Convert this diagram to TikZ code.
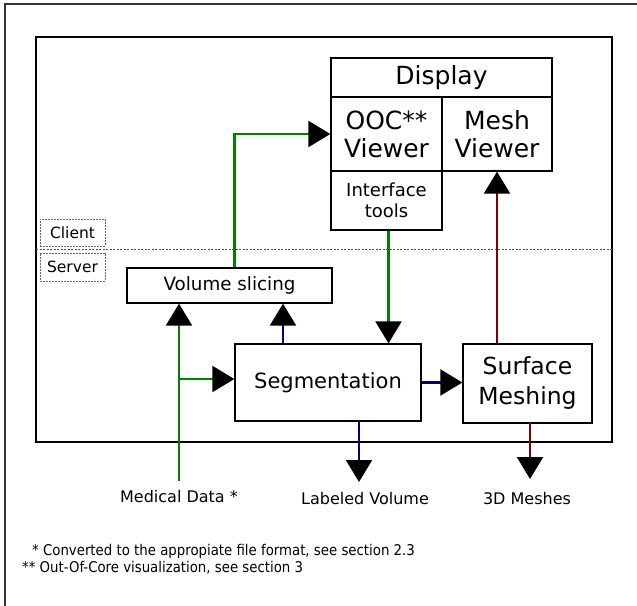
\documentclass[tikz,border=0pt]{standalone}
\usepackage{fontspec}
\setmainfont{DejaVu Sans}
\newfontfamily\condfont{DejaVu Sans Condensed}
\usetikzlibrary{arrows.meta}
\definecolor{fgreen}{RGB}{0,128,0}
\definecolor{fblue}{RGB}{0,0,128}
\definecolor{fred}{RGB}{128,0,0}
\begin{document}
\begin{tikzpicture}[x=1pt,y=-1pt,
  box/.style={draw=black, line width=1.3pt, inner sep=0pt, fill=white, align=center},
  tagbox/.style={draw=black!60, dashed, dash pattern=on 2pt off 1pt, line width=1pt, inner sep=0pt,
    minimum width=65pt, font=\fontsize{15.5}{18}\selectfont},
  lbl/.style={inner sep=0pt, font=\fontsize{16}{19}\selectfont},
  fn/.style={inner sep=0pt, anchor=base west, font=\condfont\fontsize{14.8}{17}\selectfont},
  tip/.style={-{Triangle[length=22pt,width=26pt,color=black]}},
  garrow/.style={tip, draw=fgreen, line width=2.2pt},
  barrow/.style={tip, draw=fblue, line width=2.2pt},
  rarrow/.style={tip, draw=fred, line width=2.2pt}]
\useasboundingbox (0,0) rectangle (637,605);
\fill[white] (0,0) rectangle (637,605);
\clip (0,0) rectangle (637,605);
\draw[line width=1.5pt, black!80] (5,4) rectangle (660,640);
\draw[line width=2pt] (36,37) rectangle (612,442);
\draw[black!70, line width=1pt, dash pattern=on 2pt off 1.5pt] (36,249) -- (612,249);

% display table
\node[box, minimum width=221pt, minimum height=39pt, font=\fontsize{25}{28}\selectfont] (display) at (441.5,77.5) {Display};
\node[box, minimum width=111pt, minimum height=74pt, font=\fontsize{25}{28}\selectfont] (ooc) at (386.5,134) {OOC**\\Viewer};
\node[box, minimum width=110pt, minimum height=74pt, font=\fontsize{25}{28}\selectfont] (mesh) at (497,134) {Mesh\\Viewer};
\node[box, minimum width=111pt, minimum height=59pt, font=\fontsize{18}{21.5}\selectfont] (iface) at (386.5,200.5) {Interface\\tools};

\node[box, minimum width=205pt, minimum height=35pt, font=\fontsize{18.3}{22}\selectfont] (vslice) at (229.5,285.5) {Volume slicing};
\node[box, minimum width=186pt, minimum height=77pt, font=\fontsize{21}{25}\selectfont] (seg) at (328,382.5) {Segmentation};
\node[box, minimum width=129pt, minimum height=79pt, font=\fontsize{23.5}{30}\selectfont] (surf) at (527.5,383.5) {Surface\\Meshing};

\node[tagbox, minimum height=27pt] (client) at (72.5,232.5) {Client};
\node[tagbox, minimum height=28pt] (server) at (72.5,267) {Server};

\node[lbl] (meddata) at (179,497) {Medical Data *};
\node[lbl] (labvol) at (365,499) {Labeled Volume};
\node[lbl] (meshes) at (527,499) {3D Meshes};

\node[fn] (fn1) at (32,555) {* Converted to the appropiate file format, see section 2.3};
\node[fn] (fn2) at (22,572) {** Out-Of-Core visualization, see section 3};

% connectors
\draw[garrow] ([xshift=5pt]vslice.north) |- (ooc.west);
\draw[garrow] ([xshift=2pt]iface.south) -- ([xshift=2pt]iface.south |- seg.north);
\draw[barrow] ([xshift=-45pt]seg.north) -- ([xshift=-45pt]seg.north |- vslice.south);
\coordinate (md) at (179,481);
\coordinate (br) at (179,379);
\draw[garrow] (md) -- (md |- vslice.south);
\draw[garrow] (br) -- (br -| seg.west);
\draw[barrow] (seg.east) -- (seg.east -| surf.west);
\draw[rarrow] (surf.north -| mesh.south) -- (mesh.south);
\coordinate (lv) at (359,482);
\draw[barrow] ([yshift=2pt]seg.south -| lv) -- (lv);
\coordinate (m3) at (530,479);
\draw[rarrow] ([yshift=2pt]surf.south -| m3) -- (m3);
\end{tikzpicture}
\end{document}
